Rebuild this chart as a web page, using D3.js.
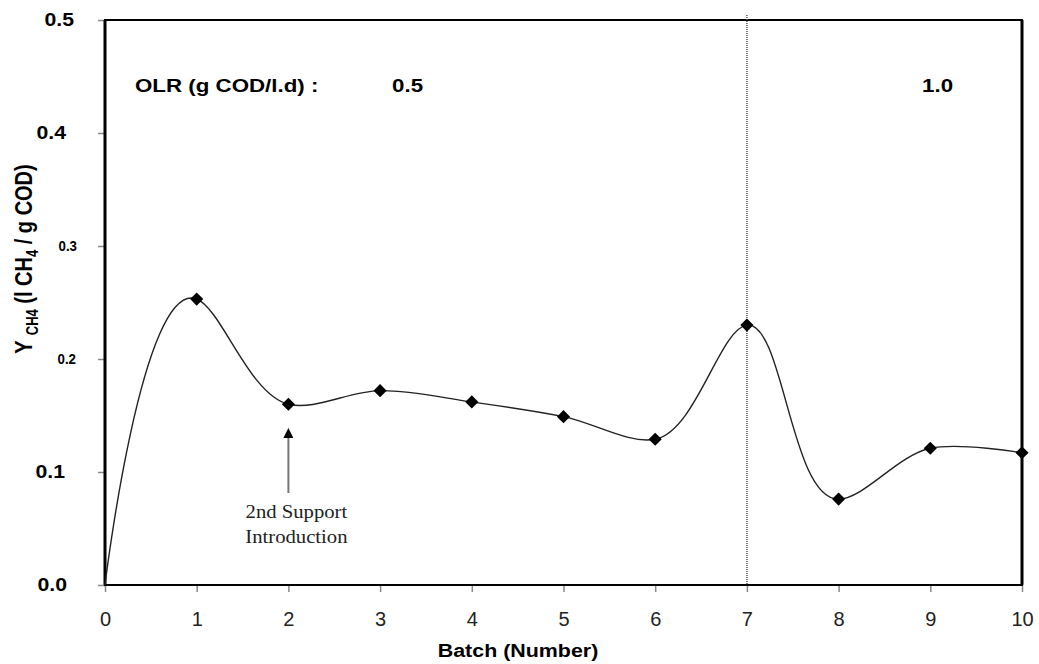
<!DOCTYPE html>
<html>
<head>
<meta charset="utf-8">
<script src="https://cdn.jsdelivr.net/npm/d3@7"></script>
<style>
  body { margin: 0; background: #fff; }
  svg { font-family: "Liberation Sans", Arial, sans-serif; }
</style>
</head>
<body>
<div id="chart"></div>
<script>
// data
var batches = [0, 1, 2, 3, 4, 5, 6, 7, 8, 9, 10];
var yieldCH4 = [0, 0.253, 0.160, 0.172, 0.162, 0.149, 0.129, 0.230, 0.076, 0.121, 0.117];
var yTicks = [0, 0.1, 0.2, 0.3, 0.4, 0.5];
var xTicks = [0, 1, 2, 3, 4, 5, 6, 7, 8, 9, 10];
var olrLabels = [{ x: 3.3, text: "0.5" }, { x: 9.08, text: "1.0" }];
var changeBatch = 7;
var supportBatch = 2;

var svgWidth = 1039;
var svgHeight = 664;
var margin = { top: 20, right: 17, bottom: 79, left: 105 };
var width = svgWidth - margin.left - margin.right;
var height = svgHeight - margin.top - margin.bottom;

// the original figure is stretched sideways, so text gets a wider look
var stretch = 1.24;

var svg = d3.select("#chart").append("svg")
  .attr("width", svgWidth)
  .attr("height", svgHeight);

var g = svg.append("g")
  .attr("transform", `translate(${margin.left}, ${margin.top})`);

var x = d3.scaleLinear().domain([0, 10]).range([0, width]);
var y = d3.scaleLinear().domain([0, 0.5]).range([height, 0]);

// x axis
var xAxis = g.append("g")
  .attr("transform", `translate(0, ${height})`)
  .call(d3.axisBottom(x).tickValues(xTicks).tickSize(7).tickFormat(d3.format("d")));
xAxis.select(".domain").remove();
xAxis.selectAll(".tick line").attr("stroke", "#888").attr("stroke-width", 1.5);
xAxis.selectAll(".tick text")
  .attr("y", 41)
  .attr("dy", 0)
  .attr("font-size", 20)
  .attr("fill", "#222")
  .attr("font-family", "Liberation Sans, Arial, sans-serif");

// y axis - smaller labels for 0.2 / 0.3 like the original
var yAxis = g.append("g")
  .call(d3.axisLeft(y).tickValues(yTicks).tickSize(7).tickFormat(d3.format(".1f")));
yAxis.select(".domain").remove();
yAxis.selectAll(".tick line").attr("stroke", "#888").attr("stroke-width", 1.5);
var yLabelShift = { "0.0": -38, "0.1": -40, "0.2": -29, "0.3": -28, "0.4": -39, "0.5": -31 };
yAxis.selectAll(".tick text")
  .attr("x", 0)
  .attr("transform", function(d) {
    var small = (d === 0.2 || d === 0.3);
    return `translate(${yLabelShift[d3.format(".1f")(d)]}, 0) scale(${small ? 0.95 : 1.18}, 1)`;
  })
  .attr("font-size", d => (d === 0.2 || d === 0.3) ? 14 : 18)
  .attr("font-weight", "bold")
  .attr("fill", "#000")
  .attr("font-family", "Liberation Sans, Arial, sans-serif");

// frame
g.append("rect")
  .attr("x", 0).attr("y", 0)
  .attr("width", width).attr("height", height)
  .attr("fill", "none")
  .attr("stroke", "#000")
  .attr("stroke-width", 2);
g.append("line")
  .attr("x1", 0).attr("x2", 0).attr("y1", 0).attr("y2", height)
  .attr("stroke", "#000").attr("stroke-width", 3);
g.append("line")
  .attr("x1", width).attr("x2", width).attr("y1", 0).attr("y2", height)
  .attr("stroke", "#000").attr("stroke-width", 3);

// dotted separator
g.append("line")
  .attr("x1", x(changeBatch)).attr("x2", x(changeBatch))
  .attr("y1", -5).attr("y2", height)
  .attr("stroke", "#555")
  .attr("stroke-width", 1.5)
  .attr("stroke-dasharray", "1,1");

// OLR labels
g.append("text")
  .attr("transform", `translate(30, 72) scale(${stretch}, 1)`)
  .attr("font-size", 18).attr("font-weight", "bold")
  .text("OLR (g COD/l.d) :");
g.selectAll(".olr")
  .data(olrLabels)
  .enter().append("text")
  .attr("class", "olr")
  .attr("transform", d => `translate(${x(d.x)}, 72) scale(${stretch}, 1)`)
  .attr("text-anchor", "middle")
  .attr("font-size", 18).attr("font-weight", "bold")
  .text(d => d.text);

// smoothed line
var line = d3.line()
  .x((d, i) => x(batches[i]))
  .y(d => y(d))
  .curve(d3.curveCatmullRom.alpha(1));

g.append("path")
  .datum(yieldCH4)
  .attr("d", line)
  .attr("fill", "none")
  .attr("stroke", "#222")
  .attr("stroke-width", 1.4);

// diamond markers
g.selectAll(".pt")
  .data(yieldCH4.slice(1))
  .enter().append("path")
  .attr("class", "pt")
  .attr("d", d3.symbol().type(d3.symbolDiamond2).size(110))
  .attr("transform", (d, i) => `translate(${x(batches[i + 1])}, ${y(d)})`)
  .attr("fill", "#000");

// annotation arrow
svg.append("defs").append("marker")
  .attr("id", "arrow")
  .attr("viewBox", "0 0 10 10")
  .attr("refX", 3).attr("refY", 5)
  .attr("markerWidth", 5).attr("markerHeight", 5)
  .attr("orient", "auto")
  .append("path")
  .attr("d", "M0,0 L10,5 L0,10 z")
  .attr("fill", "#000");

g.append("line")
  .attr("x1", x(supportBatch)).attr("x2", x(supportBatch))
  .attr("y1", 473).attr("y2", 415)
  .attr("stroke", "#777").attr("stroke-width", 2)
  .attr("marker-end", "url(#arrow)");

var note = g.selectAll(".note")
  .data(["2nd Support", "Introduction"])
  .enter().append("text")
  .attr("class", "note")
  .attr("transform", (d, i) => `translate(${x(supportBatch) + 8}, ${498 + i * 25}) scale(1.15, 1)`)
  .attr("text-anchor", "middle")
  .attr("font-family", "Liberation Serif, Times New Roman, serif")
  .attr("font-size", 18)
  .attr("fill", "#222")
  .text(d => d);

// axis titles
svg.append("text")
  .attr("transform", `translate(518, 657) scale(1.19, 1)`)
  .attr("text-anchor", "middle")
  .attr("font-size", 18).attr("font-weight", "bold")
  .text("Batch (Number)");

var yTitle = svg.append("text")
  .attr("transform", `translate(32, 259) scale(${stretch}, 1) rotate(-90)`)
  .attr("text-anchor", "middle")
  .attr("font-size", 20).attr("font-weight", "bold");
yTitle.append("tspan").text("Y ");
yTitle.append("tspan").attr("font-size", 13).attr("dy", 5).text("CH4");
yTitle.append("tspan").attr("dy", -5).text(" (l CH");
yTitle.append("tspan").attr("font-size", 13).attr("dy", 5).text("4");
yTitle.append("tspan").attr("dy", -5).text(" / g COD)");
</script>
</body>
</html>
